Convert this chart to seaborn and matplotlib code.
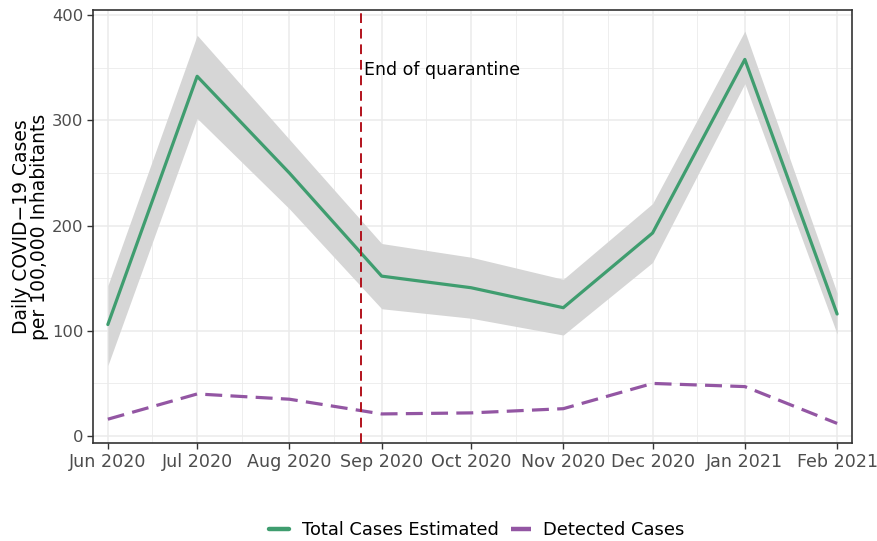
import matplotlib.pyplot as plt
import matplotlib.dates as mdates
import pandas as pd
import seaborn as sns

# Data (monthly values)
months = ['2020-06-01', '2020-07-01', '2020-08-01', '2020-09-01', '2020-10-01',
          '2020-11-01', '2020-12-01', '2021-01-01', '2021-02-01']
total_est = [106, 342, 250, 152, 141, 122, 193, 358, 116]
total_lo = [67, 302, 216, 121, 112, 96, 165, 335, 97]
total_hi = [143, 381, 282, 183, 170, 149, 221, 385, 136]
detected = [16, 40, 35, 21, 22, 26, 50, 47, 12]
tick_labels = ['Jun 2020', 'Jul 2020', 'Aug 2020', 'Sep 2020', 'Oct 2020',
               'Nov 2020', 'Dec 2020', 'Jan 2021', 'Feb 2021']
quarantine_end = '2020-08-25'

df = pd.DataFrame({'date': pd.to_datetime(months),
                   'Total Cases Estimated': total_est,
                   'Detected Cases': detected})
df_long = df.melt(id_vars='date', var_name='series', value_name='value')

sns.set_theme(style='whitegrid')
plt.rcParams['font.family'] = ['DejaVu Sans']

fig = plt.figure(figsize=(8.77, 5.41), dpi=100)
ax = fig.add_axes([0.106, 0.181, 0.8655, 0.8005])

# Ribbon for the estimate
ax.fill_between(df['date'], total_lo, total_hi, color='#d6d6d6', linewidth=0, zorder=1)

palette = {'Total Cases Estimated': '#3f9d6f', 'Detected Cases': '#9356a3'}
sns.lineplot(data=df_long, x='date', y='value', hue='series', style='series',
             palette=palette, dashes={'Total Cases Estimated': '', 'Detected Cases': (5.3, 2.6)},
             linewidth=2.3, ax=ax, zorder=3)

ax.axvline(pd.Timestamp(quarantine_end), color='#b2121c', linestyle=(0, (5, 3)),
           linewidth=1.4, zorder=4)
ax.text(pd.Timestamp(quarantine_end) + pd.Timedelta(days=1), 348, 'End of quarantine',
        fontsize=12.5, color='black', va='center', ha='left')

ax.set_xlim(pd.Timestamp('2020-05-27'), pd.Timestamp('2021-02-06'))
ax.set_ylim(-6.7, 405)
ax.set_xticks(pd.to_datetime(months))
ax.set_xticklabels(tick_labels)
ax.xaxis.set_minor_locator(mdates.DayLocator(bymonthday=16))
ax.set_yticks([0, 100, 200, 300, 400])
ax.set_yticks([50, 150, 250, 350], minor=True)

ax.grid(which='major', color='#ebebeb', linewidth=1.1)
ax.grid(which='minor', color='#ebebeb', linewidth=0.6)
ax.tick_params(axis='both', which='major', labelcolor='#4d4d4d',
               length=4, width=1, color='#333333', bottom=True, left=True)
ax.tick_params(axis='x', which='major', labelsize=12.6, pad=3)
ax.tick_params(axis='y', which='major', labelsize=11.8, pad=3)
ax.tick_params(axis='both', which='minor', length=0)
for s in ax.spines.values():
    s.set_color('#333333')
    s.set_linewidth(1.2)

ax.set_xlabel('')
ax.set_ylabel('Daily COVID\u221219 Cases\nper 100,000 Inhabitants', fontsize=13.5,
              color='black', labelpad=2, linespacing=0.95)

handles, labels = ax.get_legend_handles_labels()
ax.legend_.remove()
leg = fig.legend(handles, labels, loc='lower center', bbox_to_anchor=(0.544, -0.027),
                 ncol=2, frameon=False, fontsize=12.9, handlelength=1.1,
                 columnspacing=0.7, handletextpad=0.7)
for t in leg.get_texts():
    t.set_color('black')
for h in leg.legend_handles:
    h.set_linewidth(3.2)

fig.savefig('out.png', dpi=100)
